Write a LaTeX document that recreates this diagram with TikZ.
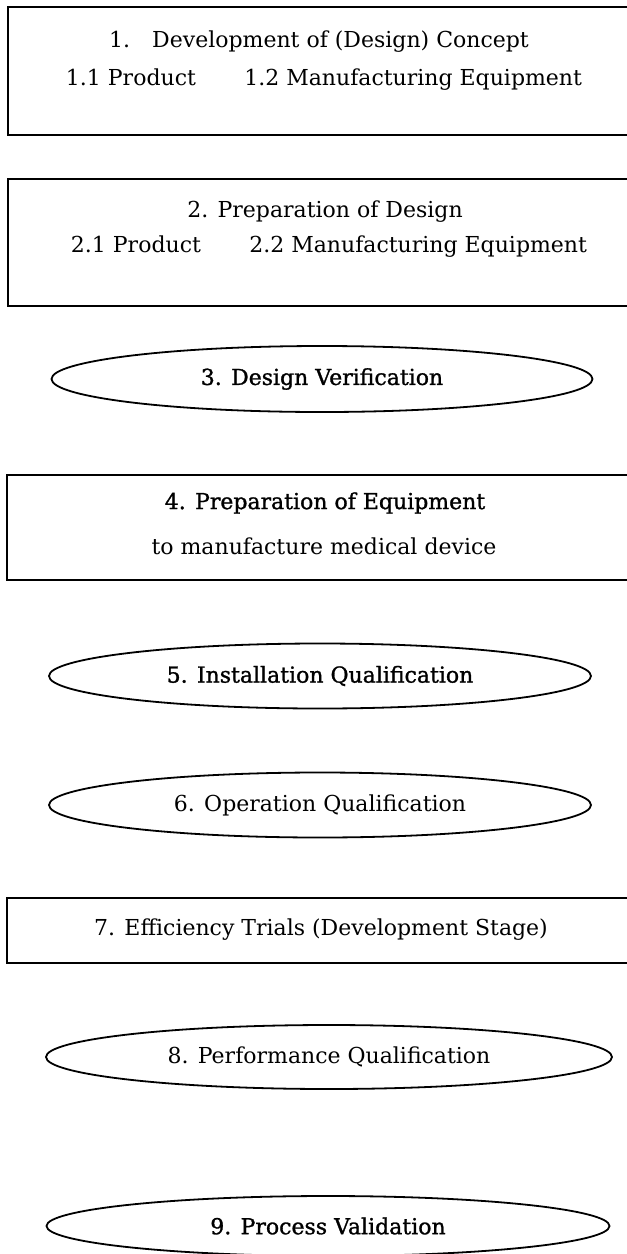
\documentclass[tikz,border=0pt]{standalone}
\usepackage{fontspec}
\setmainfont{DejaVu Serif}
\newfontfamily\heavyserif[FakeBold=1.2]{DejaVu Serif}
\usetikzlibrary{shapes.geometric}

\tikzset{
  stagebox/.style={draw, line width=1.8pt, rectangle, anchor=north west, minimum width=660pt, inner sep=0pt},
  phase/.style={draw, line width=1.8pt, ellipse, inner sep=0pt},
  boxtext/.style={inner sep=0pt},
  heavy/.style={font=\fontsize{22}{26}\selectfont\heavyserif}
}

\begin{document}
\begin{tikzpicture}[x=1pt, y=-1pt, font=\fontsize{22}{26}\selectfont]

    \useasboundingbox (0,0) rectangle (627,1254);
    \clip (0,0) rectangle (627,1254);

    % Boxes (right edges run off the page)
    \node[stagebox, minimum height=128pt] (box1) at (7,6) {};
    \node[stagebox, minimum height=127pt] (box2) at (7,178) {};
    \node[stagebox, minimum height=105pt] (box4) at (6,474) {};
    \node[stagebox, minimum height=65pt] (box7) at (6,897) {};

    % Box texts
    \node[boxtext] (t1) at (319,42) {1.\hspace{1em}Development of (Design) Concept};
    \node[boxtext] (t1s) at (324,80) {1.1 Product\hspace{2.2em}1.2 Manufacturing Equipment};
    \node[boxtext] (t2) at (325,212) {2. Preparation of Design};
    \node[boxtext] (t2s) at (329,247) {2.1 Product\hspace{2.2em}2.2 Manufacturing Equipment};
    \node[boxtext, heavy] (t4) at (325,503) {4. Preparation of Equipment};
    \node[boxtext] (t4s) at (324,546) {to manufacture medical device};
    \node[boxtext] (t7) at (321,930) {7. Efficiency Trials (Development Stage)};

    % Ellipses
    \node[phase, heavy, minimum width=541pt, minimum height=66pt] (ell3) at (322,379) {3. Design Verification};
    \node[phase, heavy, minimum width=542pt, minimum height=65pt] (ell5) at (320,676) {5. Installation Qualification};
    \node[phase, minimum width=542pt, minimum height=65pt] (ell6) at (320,805) {6. Operation Qualification};
    \node[phase, minimum width=566pt, minimum height=64pt] (ell8) at (329,1057) {8. Performance Qualification};
    \node[phase, heavy, minimum width=563pt, minimum height=60pt] (ell9) at (328,1226) {9. Process Validation};

\end{tikzpicture}
\end{document}
